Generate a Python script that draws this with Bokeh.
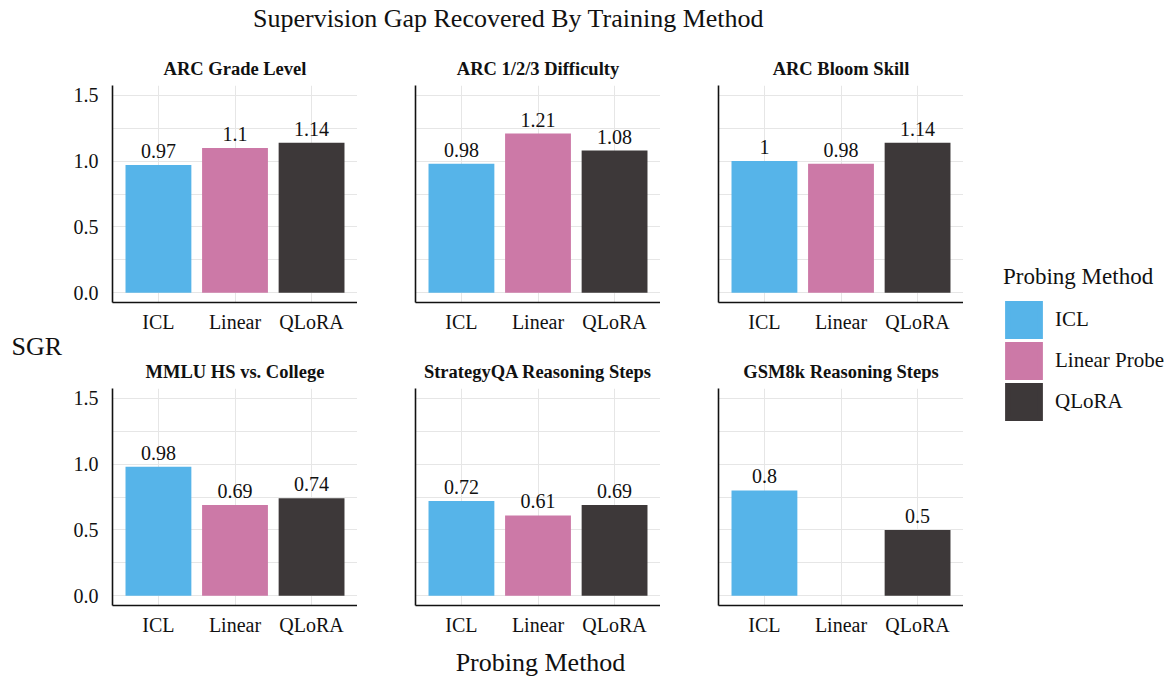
from bokeh.plotting import figure
from bokeh.models import (ColumnDataSource, FactorRange, Range1d, FixedTicker,
                          NumeralTickFormatter, LabelSet, Label, Legend, LegendItem)
from bokeh.core.properties import value
from bokeh.layouts import row, column
from bokeh.embed import file_html
from bokeh.resources import INLINE

# ---------------- data ----------------
methods = ["ICL", "Linear", "QLoRA"]
legend_labels = ["ICL", "Linear Probe", "QLoRA"]
colors = ["#56B4E9", "#CC79A7", "#3D3839"]
facets = ["ARC Grade Level", "ARC 1/2/3 Difficulty", "ARC Bloom Skill",
          "MMLU HS vs. College", "StrategyQA Reasoning Steps", "GSM8k Reasoning Steps"]
icl = [0.97, 0.98, 1.00, 0.98, 0.72, 0.80]
linear = [1.10, 1.21, 0.98, 0.69, 0.61, None]
qlora = [1.14, 1.08, 1.14, 0.74, 0.69, 0.50]
y_ticks = [0.0, 0.5, 1.0, 1.5]
y_grid = [0.0, 0.25, 0.5, 0.75, 1.0, 1.25, 1.5]

FONT = "Liberation Serif"
TXT = "#111111"
GRID = "#E6E6E6"


def blank(width, height):
    f = figure(width=width, height=height, x_range=Range1d(0, 1), y_range=Range1d(0, 1),
               x_axis_location=None, y_axis_location=None, min_border=0,
               output_backend="svg", toolbar_location=None)
    f.grid.visible = False
    f.outline_line_color = None
    return f


def panel(i):
    r, c = divmod(i, 3)
    vals = [icl[i], linear[i], qlora[i]]
    xs, tops, cols, labs = [], [], [], []
    for m, v, col in zip(methods, vals, colors):
        if v is None:
            continue
        xs.append(m)
        tops.append(v)
        cols.append(col)
        labs.append(f"{v:g}")
    src = ColumnDataSource(dict(x=xs, top=tops, color=cols, label=labs))
    p = figure(x_range=FactorRange(factors=methods, range_padding=0.1,
                                   range_padding_units="absolute"),
               y_range=Range1d(-0.075, 1.575),
               frame_width=245, frame_height=217,
               min_border_left=48 if c == 0 else 58, min_border_right=0,
               min_border_top=40, min_border_bottom=46 if r == 0 else 36,
               output_backend="svg", toolbar_location=None, title=facets[i])
    p.title.text_font = FONT
    p.title.text_font_size = "18.5px"
    p.title.text_font_style = "bold"
    p.title.align = "center"
    p.title.text_color = TXT
    p.title.standoff = 13
    p.outline_line_color = None

    p.vbar(x="x", top="top", bottom=0, width=0.86, fill_color="color",
           line_color=None, source=src)
    p.add_layout(LabelSet(x="x", y="top", text="label", source=src,
                          text_align="center", text_baseline="middle",
                          y_offset=14, text_font=value(FONT),
                          text_font_size=value("20px"), text_color=TXT))

    p.ygrid.ticker = FixedTicker(ticks=y_grid)
    p.grid.grid_line_color = GRID
    p.grid.grid_line_width = 1

    for ax in (p.xaxis[0], p.yaxis[0]):
        ax.axis_line_color = "#111111"
        ax.axis_line_width = 1.6
        ax.major_tick_line_color = None
        ax.minor_tick_line_color = None
        ax.major_label_text_font = FONT
        ax.major_label_text_font_size = "20px"
        ax.major_label_text_color = TXT
    p.xaxis.major_label_standoff = 2
    p.yaxis.major_label_standoff = 8
    if c == 0:
        p.yaxis.ticker = FixedTicker(ticks=y_ticks)
        p.yaxis.formatter = NumeralTickFormatter(format="0.0")
    else:
        p.yaxis.ticker = FixedTicker(ticks=[])
    return p


panels = [panel(i) for i in range(6)]
grid = column(row(*panels[:3]), row(*panels[3:]))

# overall title
tf = blank(1173, 45)
tf.add_layout(Label(x=508, y=27, x_units="screen", y_units="screen",
                    text="Supervision Gap Recovered By Training Method",
                    text_align="center", text_baseline="middle",
                    text_font=FONT, text_font_size="26px", text_color=TXT))

# y label
sf = blank(64, 596)
sf.add_layout(Label(x=11, y=295, x_units="screen", y_units="screen", text="SGR",
                    text_align="left", text_baseline="middle",
                    text_font=FONT, text_font_size="26px", text_color=TXT))

# legend (glyph renderers carry no visible data; they only style the keys)
lf = blank(210, 596)
nan = float("nan")
items = []
for lab, col in zip(legend_labels, colors):
    rr = lf.vbar(x=[nan], top=[nan], bottom=[nan], width=0.5, fill_color=col,
                 line_color=col, line_width=5, line_join="miter")
    items.append(LegendItem(label=lab, renderers=[rr]))
legend = Legend(items=items, location=(40, 219), title="Probing Method",
                glyph_width=41, glyph_height=41, spacing=0, label_standoff=11,
                padding=0, margin=0, border_line_color=None,
                background_fill_alpha=0,
                label_text_font=FONT, label_text_font_size="21px",
                label_text_color=TXT,
                title_text_font=FONT, title_text_font_size="23px",
                title_text_font_style="normal", title_text_color=TXT,
                title_standoff=9)
lf.add_layout(legend)

# x label
xf = blank(1173, 39)
xf.add_layout(Label(x=540, y=18, x_units="screen", y_units="screen",
                    text="Probing Method", text_align="center",
                    text_baseline="middle",
                    text_font=FONT, text_font_size="26px", text_color=TXT))

layout = column(tf, row(sf, grid, lf), xf)

open("out.html", "w").write(file_html(layout, INLINE))
